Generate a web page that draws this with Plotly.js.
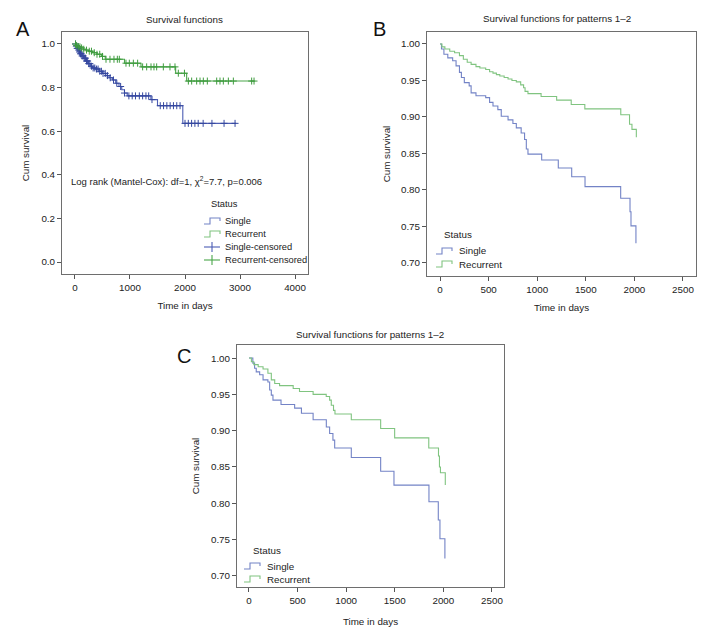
<!DOCTYPE html>
<html><head><meta charset="utf-8">
<script src="https://cdn.plot.ly/plotly-3.0.1.min.js"></script>
<style>html,body{margin:0;padding:0;background:#fff;}#chart{width:720px;height:643px;}</style>
</head><body><div id="chart"></div>
<script>
// ---------- Panel A: Survival functions (with censored marks) ----------
const aSingleT = [0,20,40,60,80,100,130,160,200,240,280,320,380,440,500,560,620,680,740,800,850,900,950,1380,1500,1960,2930];
const aSingleS = [1.0,0.99,0.98,0.972,0.963,0.955,0.945,0.935,0.922,0.91,0.898,0.89,0.885,0.875,0.865,0.855,0.845,0.835,0.82,0.805,0.79,0.775,0.762,0.745,0.717,0.636,0.636];
const aSingleCensT = [10,25,40,55,70,85,100,115,130,150,170,190,210,230,250,270,300,330,360,390,420,450,480,510,550,590,640,700,760,830,900,980,1040,1100,1170,1230,1290,1340,1400,1550,1610,1670,1730,1790,1850,1910,2000,2060,2120,2180,2240,2330,2490,2710,2910];
const aRecT = [0,30,60,100,150,200,250,320,400,480,550,900,1200,1830,2030,3250];
const aRecS = [1.0,0.993,0.987,0.982,0.976,0.972,0.967,0.96,0.953,0.943,0.93,0.912,0.895,0.866,0.83,0.83];
const aRecCensT = [10,30,60,90,120,160,210,260,300,350,400,450,500,564,636,709,770,806,927,988,1061,1139,1230,1303,1382,1436,1485,1606,1727,1818,1879,1990,2061,2121,2212,2273,2333,2406,2576,2636,2697,2788,2879,3212,3255];

// ---------- Panel B: Survival functions for patterns 1–2 ----------
const bSingleT = [0,15,40,80,130,165,200,220,250,300,320,370,470,510,545,595,630,700,750,785,835,870,888,905,1046,1217,1355,1492,1859,1955,1965,2016];
const bSingleS = [1.0,0.993,0.986,0.981,0.977,0.97,0.961,0.954,0.947,0.9425,0.933,0.929,0.9265,0.92,0.915,0.91,0.901,0.896,0.891,0.885,0.878,0.869,0.856,0.849,0.841,0.83,0.818,0.8045,0.7886,0.770,0.7507,0.727];
const bRecT = [0,20,50,100,150,200,240,280,320,370,410,470,510,545,580,615,660,700,740,785,830,860,875,905,1040,1200,1350,1490,1860,1950,1975,2020];
const bRecS = [1.0,0.996,0.993,0.99,0.988,0.984,0.979,0.975,0.972,0.969,0.967,0.965,0.962,0.96,0.958,0.956,0.954,0.952,0.95,0.948,0.944,0.94,0.935,0.932,0.928,0.923,0.917,0.911,0.903,0.89,0.883,0.872];

// ---------- Panel C: Survival functions for patterns 1–2 ----------
const cSingleT = [0,40,58,75,110,145,195,213,230,247,330,470,540,660,796,830,864,882,1053,1355,1492,1852,1948,1965,2016];
const cSingleS = [1.0,0.993,0.986,0.981,0.977,0.970,0.967,0.956,0.949,0.942,0.936,0.931,0.924,0.915,0.905,0.896,0.887,0.876,0.863,0.844,0.825,0.802,0.777,0.751,0.724];
const cRecT = [0,25,50,95,145,195,230,265,315,455,520,660,795,830,847,870,885,1053,1355,1499,1850,1950,1960,1970,2020];
const cRecS = [1.0,0.995,0.991,0.988,0.985,0.979,0.97,0.965,0.962,0.958,0.954,0.950,0.947,0.942,0.935,0.928,0.923,0.915,0.903,0.89,0.876,0.865,0.85,0.842,0.825];

const seriesNames = ['Single','Recurrent','Single-censored','Recurrent-censored'];
const xTitle = 'Time in days';
const yTitle = 'Cum survival';
const titleA = 'Survival functions';
const titleBC = 'Survival functions for patterns 1–2';
const logRankText = 'Log rank (Mantel-Cox): df=1, χ<sup>2</sup>=7.7, p=0.006';
const legendTitle = 'Status';

// ---------- helpers ----------
const W = 720, H = 643;
const fx = p => p / W;
const fy = p => 1 - p / H;
function stepAt(ts, ss, t){ let v = ss[0]; for(let i=0;i<ts.length;i++){ if(ts[i] <= t) v = ss[i]; } return v; }

const FONT = '"Liberation Sans", Arial, sans-serif';
const FS = 9.8;
const LFS = 9.3;
const BLUE_A = '#4c5db4', GREEN_A = '#4aa64a';
const BLUE_MK = '#34479f', GREEN_MK = '#3f9c3f';
const BLUE = '#7383c6', GREEN = '#80c480';

function stepTrace(x, y, color, xa, ya, name){
  return {type:'scatter', mode:'lines', x:x, y:y, name:name, line:{shape:'hv', color:color, width:1.1}, xaxis:xa, yaxis:ya, showlegend:false, hoverinfo:'skip'};
}
function censTrace(ct, ts, ss, color, xa, ya, name){
  return {type:'scatter', mode:'markers', x:ct, y:ct.map(t=>stepAt(ts, ss, t)), name:name,
    marker:{symbol:'cross-thin', size:5, line:{width:1, color:color}, color:color}, xaxis:xa, yaxis:ya, showlegend:false, hoverinfo:'skip'};
}

const data = [
  stepTrace(aSingleT, aSingleS, BLUE_A, 'x', 'y', seriesNames[0]),
  stepTrace(aRecT, aRecS, GREEN_A, 'x', 'y', seriesNames[1]),
  censTrace(aSingleCensT, aSingleT, aSingleS, BLUE_MK, 'x', 'y', seriesNames[2]),
  censTrace(aRecCensT, aRecT, aRecS, GREEN_MK, 'x', 'y', seriesNames[3]),
  stepTrace(bSingleT, bSingleS, BLUE, 'x2', 'y2', seriesNames[0]),
  stepTrace(bRecT, bRecS, GREEN, 'x2', 'y2', seriesNames[1]),
  stepTrace(cSingleT, cSingleS, BLUE, 'x3', 'y3', seriesNames[0]),
  stepTrace(cRecT, cRecS, GREEN, 'x3', 'y3', seriesNames[1])
];

function xAx(dom, range, dtick, yref, standoff){
  return {domain:dom, range:range, dtick:dtick, tick0:0, anchor:yref, showgrid:false, zeroline:false,
    showline:true, mirror:true, linecolor:'#6e6e6e', linewidth:1, ticks:'outside', ticklen:4, tickcolor:'#555',
    tickfont:{family:FONT, size:FS, color:'#222'},
    title:{text:xTitle, font:{family:FONT, size:FS, color:'#222'}, standoff:standoff}, fixedrange:true};
}
function yAx(dom, range, dtick, tick0, fmt, xref, standoff){
  return {domain:dom, range:range, dtick:dtick, tick0:tick0, tickformat:fmt, anchor:xref, showgrid:false, zeroline:false,
    showline:true, mirror:true, linecolor:'#6e6e6e', linewidth:1, ticks:'outside', ticklen:4, tickcolor:'#555',
    tickfont:{family:FONT, size:FS, color:'#222'},
    title:{text:yTitle, font:{family:FONT, size:FS, color:'#222'}, standoff:standoff}, fixedrange:true};
}

const annFont = {family:FONT, size:FS, color:'#222'};
const ann = [];
function txt(text, px, py, xanchor, size){ ann.push({text:text, xref:'paper', yref:'paper', x:fx(px), y:fy(py), xanchor:xanchor||'center', yanchor:'middle', showarrow:false, font:Object.assign({}, annFont, size?{size:size}:{})}); }
// panel titles & letters
txt(titleA, 185, 20); txt(titleBC, 557, 19); txt(titleBC, 370, 334);
const letterFont = {family:FONT, size:20, color:'#111'};
ann.push({text:'A', xref:'paper', yref:'paper', x:fx(23), y:fy(29), showarrow:false, xanchor:'center', yanchor:'middle', font:letterFont});
ann.push({text:'B', xref:'paper', yref:'paper', x:fx(379), y:fy(29), showarrow:false, xanchor:'center', yanchor:'middle', font:letterFont});
ann.push({text:'C', xref:'paper', yref:'paper', x:fx(184), y:fy(356), showarrow:false, xanchor:'center', yanchor:'middle', font:letterFont});
txt(logRankText, 69, 181, 'left', 9.5);

// custom legends
const shapes = [];
function stepGlyph(x0, y, color){
  const p = `M${fx(x0)},${fy(y+3)} L${fx(x0+6)},${fy(y+3)} L${fx(x0+6)},${fy(y-3)} L${fx(x0+16)},${fy(y-3)} L${fx(x0+16)},${fy(y)}`;
  shapes.push({type:'path', xref:'paper', yref:'paper', path:p, line:{color:color, width:1.1}});
}
function crossGlyph(x0, y, color){
  shapes.push({type:'line', xref:'paper', yref:'paper', x0:fx(x0), x1:fx(x0+16), y0:fy(y), y1:fy(y), line:{color:color, width:1.1}});
  shapes.push({type:'line', xref:'paper', yref:'paper', x0:fx(x0+8), x1:fx(x0+8), y0:fy(y-5), y1:fy(y+5), line:{color:color, width:1.1}});
}
// A
txt(legendTitle, 209, 204, 'left', LFS);
stepGlyph(204, 221, BLUE); txt(seriesNames[0], 223, 221, 'left', LFS);
stepGlyph(204, 234, GREEN); txt(seriesNames[1], 223, 234, 'left', LFS);
crossGlyph(204, 247, BLUE_A); txt(seriesNames[2], 223, 247, 'left', LFS);
crossGlyph(204, 260, GREEN_A); txt(seriesNames[3], 223, 260, 'left', LFS);
// B
txt(legendTitle, 442, 235, 'left');
stepGlyph(436, 251, BLUE); txt(seriesNames[0], 457, 251, 'left');
stepGlyph(436, 264, GREEN); txt(seriesNames[1], 457, 264, 'left');
// C
txt(legendTitle, 251, 550, 'left');
stepGlyph(244, 566, BLUE); txt(seriesNames[0], 265, 566, 'left');
stepGlyph(244, 579, GREEN); txt(seriesNames[1], 265, 579, 'left');

const layout = {
  width:W, height:H, margin:{l:0,r:0,t:0,b:0}, paper_bgcolor:'#fff', plot_bgcolor:'#fff', showlegend:false,
  font:{family:FONT, size:FS, color:'#222'},
  xaxis: xAx([fx(62), fx(308)], [-236, 4236], 1000, 'y', 10),
  yaxis: yAx([fy(274), fy(32)], [-0.055, 1.055], 0.2, 0, '.1f', 'x', 9),
  xaxis2: xAx([fx(427), fx(696)], [-134, 2634], 500, 'y2', 10),
  yaxis2: yAx([fy(276), fy(32)], [0.682, 1.0164], 0.05, 0.7, '.2f', 'x2', 8),
  xaxis3: xAx([fx(237), fx(504)], [-123, 2624], 500, 'y3', 13),
  yaxis3: yAx([fy(587), fy(345)], [0.6846, 1.018], 0.05, 0.7, '.2f', 'x3', 9),
  annotations: ann, shapes: shapes
};
Plotly.newPlot('chart', data, layout, {staticPlot:true, displayModeBar:false});
</script></body></html>
